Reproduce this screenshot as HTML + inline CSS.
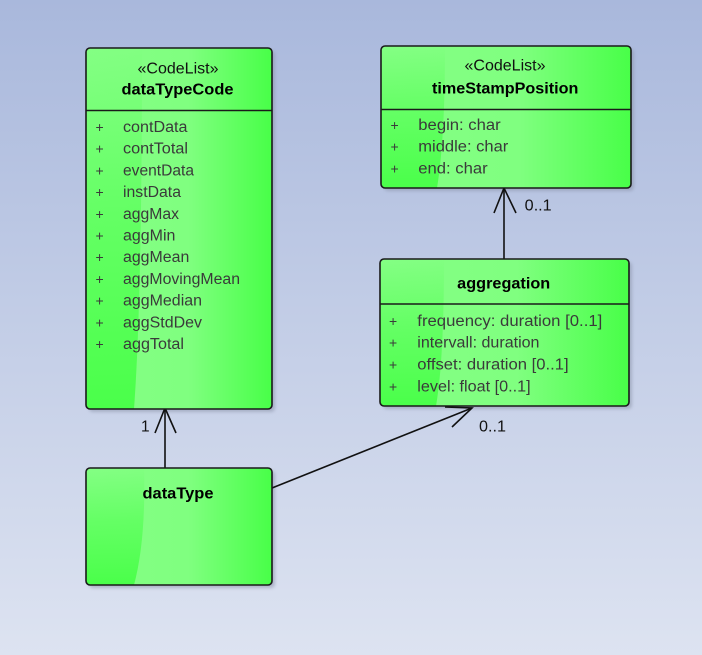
<!DOCTYPE html>
<html><head><meta charset="utf-8"><style>
html,body{margin:0;padding:0;width:702px;height:655px;overflow:hidden}
svg{display:block}
text{font-family:"Liberation Sans",Arial,sans-serif}
.a{font-size:15.5px;fill:#3a3a3a}
.p{font-size:14px;fill:#3a3a3a}
.s{font-size:15.5px;fill:#111}
.b{font-size:16px;font-weight:bold;fill:#000}
.m{font-size:15.5px;fill:#111}
</style></head><body>
<svg width="702" height="655" viewBox="0 0 702 655" xmlns="http://www.w3.org/2000/svg">
<defs>
<linearGradient id="bg" x1="0" y1="0" x2="0" y2="1">
<stop offset="0" stop-color="#a9b8dc"/><stop offset="1" stop-color="#dde3f1"/>
</linearGradient>
<linearGradient id="gh" x1="0" y1="0" x2="1" y2="0">
<stop offset="0" stop-color="#84ff84"/><stop offset="0.55" stop-color="#80ff80"/><stop offset="1" stop-color="#48ff48"/>
</linearGradient>
<linearGradient id="gv" x1="0" y1="0" x2="0" y2="1">
<stop offset="0" stop-color="#4cff4c" stop-opacity="0"/><stop offset="0.45" stop-color="#4cff4c" stop-opacity="0.55"/><stop offset="1" stop-color="#4aff4a" stop-opacity="1"/>
</linearGradient>
<filter id="sh" x="-10%" y="-10%" width="130%" height="130%"><feGaussianBlur stdDeviation="1.5"/></filter>
<clipPath id="c1"><rect x="86" y="48" width="186" height="361" rx="4"/></clipPath>
<clipPath id="c2"><rect x="381" y="46" width="250" height="142" rx="4"/></clipPath>
<clipPath id="c3"><rect x="380" y="259" width="249" height="147" rx="4"/></clipPath>
<clipPath id="c4"><rect x="86" y="468" width="186" height="117" rx="4"/></clipPath>
</defs>
<rect x="0" y="0" width="702" height="655" fill="url(#bg)"/>

<!-- shadows -->
<g fill="#8a93a8" opacity="0.55" filter="url(#sh)">
<rect x="89" y="51" width="186" height="361" rx="4"/>
<rect x="384" y="49" width="250" height="142" rx="4"/>
<rect x="383" y="262" width="249" height="147" rx="4"/>
<rect x="89" y="471" width="186" height="117" rx="4"/>
</g>

<!-- connectors -->
<g stroke="#111" stroke-width="1.6" fill="none">
<line x1="165" y1="468" x2="165" y2="409"/>
<polyline points="155,433 165,408 176,433"/>
<line x1="504" y1="259" x2="504" y2="189"/>
<polyline points="494,213 504,188 516,213"/>
<line x1="272" y1="488" x2="472" y2="408"/>
<polyline points="452,427 472,408 445,407"/>
</g>

<!-- box 1 dataTypeCode -->
<rect x="86" y="48" width="186" height="361" rx="4" fill="url(#gh)"/>
<path clip-path="url(#c1)" d="M86,48 L142,48 Q142,300 134,409 L86,409 Z" fill="url(#gv)"/>
<rect x="86" y="48" width="186" height="361" rx="4" fill="none" stroke="#1a1a1a" stroke-width="1.6"/>
<line x1="86" y1="110.5" x2="272" y2="110.5" stroke="#1a1a1a" stroke-width="1.6"/>
<text class="s" x="178" y="73.5" text-anchor="middle" textLength="81" lengthAdjust="spacingAndGlyphs">«CodeList»</text>
<text class="b" x="177.5" y="94.5" text-anchor="middle" textLength="112" lengthAdjust="spacingAndGlyphs">dataTypeCode</text>
<g class="a">
<text class="p" x="95.5" y="132">+</text><text x="123" y="132" textLength="64.5" lengthAdjust="spacingAndGlyphs">contData</text>
<text class="p" x="95.5" y="153.7">+</text><text x="123" y="153.7" textLength="65" lengthAdjust="spacingAndGlyphs">contTotal</text>
<text class="p" x="95.5" y="175.4">+</text><text x="123" y="175.4" textLength="71" lengthAdjust="spacingAndGlyphs">eventData</text>
<text class="p" x="95.5" y="197.1">+</text><text x="123" y="197.1" textLength="58" lengthAdjust="spacingAndGlyphs">instData</text>
<text class="p" x="95.5" y="218.8">+</text><text x="123" y="218.8" textLength="56" lengthAdjust="spacingAndGlyphs">aggMax</text>
<text class="p" x="95.5" y="240.5">+</text><text x="123" y="240.5" textLength="52.4" lengthAdjust="spacingAndGlyphs">aggMin</text>
<text class="p" x="95.5" y="262.2">+</text><text x="123" y="262.2" textLength="66.3" lengthAdjust="spacingAndGlyphs">aggMean</text>
<text class="p" x="95.5" y="283.9">+</text><text x="123" y="283.9" textLength="117" lengthAdjust="spacingAndGlyphs">aggMovingMean</text>
<text class="p" x="95.5" y="305.6">+</text><text x="123" y="305.6" textLength="79" lengthAdjust="spacingAndGlyphs">aggMedian</text>
<text class="p" x="95.5" y="327.3">+</text><text x="123" y="327.3" textLength="79" lengthAdjust="spacingAndGlyphs">aggStdDev</text>
<text class="p" x="95.5" y="349">+</text><text x="123" y="349" textLength="61" lengthAdjust="spacingAndGlyphs">aggTotal</text>
</g>

<!-- box 2 timeStampPosition -->
<rect x="381" y="46" width="250" height="142" rx="4" fill="url(#gh)"/>
<path clip-path="url(#c2)" d="M381,46 L445,46 Q445,140 437,188 L381,188 Z" fill="url(#gv)"/>
<rect x="381" y="46" width="250" height="142" rx="4" fill="none" stroke="#1a1a1a" stroke-width="1.6"/>
<line x1="381" y1="109.5" x2="631" y2="109.5" stroke="#1a1a1a" stroke-width="1.6"/>
<text class="s" x="505" y="70.5" text-anchor="middle" textLength="81" lengthAdjust="spacingAndGlyphs">«CodeList»</text>
<text class="b" x="505.2" y="93.3" text-anchor="middle" textLength="146.4" lengthAdjust="spacingAndGlyphs">timeStampPosition</text>
<g class="a">
<text class="p" x="390.5" y="130">+</text><text x="418.3" y="130" textLength="82.4" lengthAdjust="spacingAndGlyphs">begin: char</text>
<text class="p" x="390.5" y="151.7">+</text><text x="418.3" y="151.7" textLength="90" lengthAdjust="spacingAndGlyphs">middle: char</text>
<text class="p" x="390.5" y="173.4">+</text><text x="418.3" y="173.4" textLength="69.4" lengthAdjust="spacingAndGlyphs">end: char</text>
</g>

<!-- box 3 aggregation -->
<rect x="380" y="259" width="249" height="147" rx="4" fill="url(#gh)"/>
<path clip-path="url(#c3)" d="M380,259 L444,259 Q444,360 436,406 L380,406 Z" fill="url(#gv)"/>
<rect x="380" y="259" width="249" height="147" rx="4" fill="none" stroke="#1a1a1a" stroke-width="1.6"/>
<line x1="380" y1="304" x2="629" y2="304" stroke="#1a1a1a" stroke-width="1.6"/>
<text class="b" x="503.7" y="288.3" text-anchor="middle" textLength="93" lengthAdjust="spacingAndGlyphs">aggregation</text>
<g class="a">
<text class="p" x="389" y="326">+</text><text x="417.3" y="326" textLength="185" lengthAdjust="spacingAndGlyphs">frequency: duration [0..1]</text>
<text class="p" x="389" y="347.7">+</text><text x="417.3" y="347.7" textLength="122.2" lengthAdjust="spacingAndGlyphs">intervall: duration</text>
<text class="p" x="389" y="369.6">+</text><text x="417.3" y="369.6" textLength="151.3" lengthAdjust="spacingAndGlyphs">offset: duration [0..1]</text>
<text class="p" x="389" y="391.5">+</text><text x="417.3" y="391.5" textLength="113.3" lengthAdjust="spacingAndGlyphs">level: float [0..1]</text>
</g>

<!-- box 4 dataType -->
<rect x="86" y="468" width="186" height="117" rx="4" fill="url(#gh)"/>
<path clip-path="url(#c4)" d="M86,468 L144,468 Q146,540 134,585 L86,585 Z" fill="url(#gv)"/>
<rect x="86" y="468" width="186" height="117" rx="4" fill="none" stroke="#1a1a1a" stroke-width="1.6"/>
<text class="b" x="178" y="498.3" text-anchor="middle" textLength="71" lengthAdjust="spacingAndGlyphs">dataType</text>

<!-- multiplicities -->
<text class="m" x="141" y="431.5">1</text>
<text class="m" x="524.7" y="210.5" textLength="27" lengthAdjust="spacingAndGlyphs">0..1</text>
<text class="m" x="479" y="431.5" textLength="27" lengthAdjust="spacingAndGlyphs">0..1</text>
</svg>
</body></html>
